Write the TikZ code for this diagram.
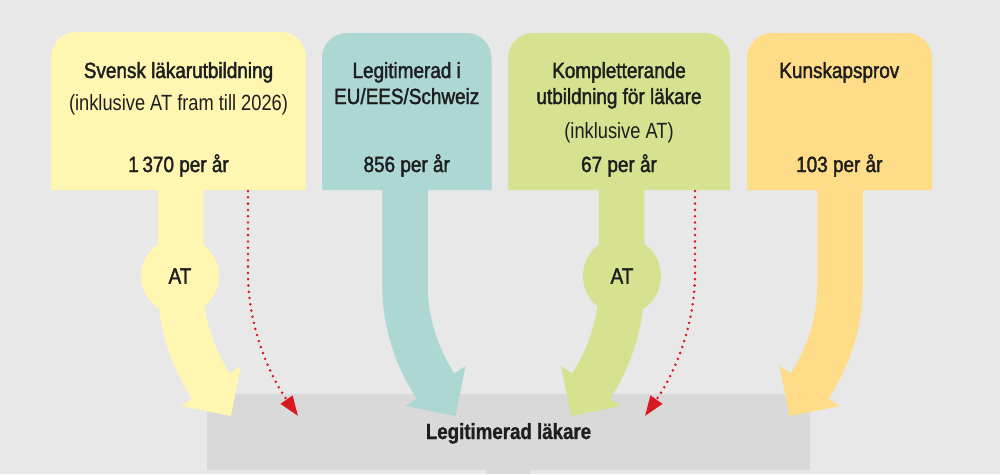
\documentclass[tikz,border=0pt]{standalone}
\usepackage{fontspec}
\setmainfont{Liberation Sans}[FakeStretch=0.85]
\newfontfamily\medf{Liberation Sans}[FakeStretch=0.86,FakeBold=1.8]
\newfontfamily\lightf{Liberation Sans}[FakeStretch=0.83]
\newfontfamily\heavyf{Liberation Sans Bold}[FakeStretch=0.85,FakeBold=1]
\usetikzlibrary{arrows.meta}
\definecolor{bg}{HTML}{E8E8E8}
\definecolor{cyel}{HTML}{FFF6B2}
\definecolor{cteal}{HTML}{ACD7D3}
\definecolor{cgreen}{HTML}{D6E290}
\definecolor{corange}{HTML}{FEDC88}
\definecolor{cgray}{HTML}{D9D9D9}
\definecolor{cred}{HTML}{D71920}
\definecolor{ctext}{HTML}{1E1E1E}
\begin{document}
\begin{tikzpicture}[x=1pt,y=-1pt,
  lbl/.style={inner sep=0pt, anchor=base, text=ctext, font=\medf\fontsize{22}{26}\selectfont},
  sub/.style={lbl, font=\lightf\fontsize{22}{26}\selectfont},
  shaft/.style={line width=45.5pt},
  atcircle/.style={circle, inner sep=0pt, minimum size=78pt, text=ctext, font=\medf\fontsize{22}{26}\selectfont},
  redflow/.style={cred, line width=2.8pt, line cap=round, dash pattern=on 0pt off 6.3pt, -{Triangle[length=20pt,width=14pt]}}
]
% background
\path[use as bounding box, fill=bg] (0,0) rectangle (1000,474);

% bottom target box
\fill[cgray] (207,393.5) rectangle (810,470);
\fill[cgray] (486,470) rectangle (531,474);
\node[lbl, font=\heavyf\fontsize{22}{26}\selectfont] (leg) at (508.5,439) {Legitimerad läkare};

% source boxes
\fill[cyel] (51,190) [rounded corners=25pt] -- (51,32) -- (306,32) [sharp corners] -- (306,190) -- cycle;
\fill[cteal] (322,190) [rounded corners=25pt] -- (322,33) -- (491.5,33) [sharp corners] -- (491.5,190) -- cycle;
\fill[cgreen] (508,190) [rounded corners=25pt] -- (508,33) -- (730,33) [sharp corners] -- (730,190) -- cycle;
\fill[corange] (747,190) [rounded corners=25pt] -- (747,33) -- (932,33) [sharp corners] -- (932,190) -- cycle;

% yellow flow
\draw[cyel, shaft] (180.5,189) -- (180.5,285) .. controls (180.5,321) and (191.1,356.1) .. (212.1,387.7);
\fill[cyel] (181,406) -- (241,366) -- (231,416) -- cycle;
\node[atcircle, fill=cyel] (at1) at (180,276) {AT};

% teal flow
\draw[cteal, shaft] (405,189) -- (405,285) .. controls (405,321) and (415.6,356.1) .. (436.6,387.7);
\fill[cteal] (405.5,406) -- (465.5,366) -- (455.5,416) -- cycle;

% green flow
\draw[cgreen, shaft] (621.5,189) -- (621.5,285) .. controls (621.5,321) and (610.9,356.1) .. (589.9,387.7);
\fill[cgreen] (621,406) -- (561,366) -- (571,416) -- cycle;
\node[atcircle, fill=cgreen] (at2) at (622,276) {AT};

% orange flow
\draw[corange, shaft] (840,189) -- (840,285) .. controls (840,321) and (829.4,356.1) .. (808.4,387.7);
\fill[corange] (839.5,406) -- (779.5,366) -- (789.5,416) -- cycle;

% dotted red flows
\coordinate (r1s) at (248,191);
\coordinate (r1e) at (298,416);
\draw[redflow] (r1s) -- (248,273) .. controls (248,325) and (268,373) .. (r1e);
\coordinate (r2s) at (695,191);
\coordinate (r2e) at (645,416);
\draw[redflow] (r2s) -- (695,273) .. controls (695,325) and (675,373) .. (r2e);

% texts
\node[lbl] (t1a) at (178.5,78) {Svensk läkarutbildning};
\node[sub] (t1b) at (178.5,110) {(inklusive AT fram till 2026)};
\node[lbl] (t1c) at (178.5,172) {1\,370 per år};

\node[lbl] (t2a) at (406.7,78) {Legitimerad i};
\node[lbl] (t2b) at (406.7,104) {EU/EES/Schweiz};
\node[lbl] (t2c) at (406.7,172) {856 per år};

\node[lbl] (t3a) at (619,78) {Kompletterande};
\node[lbl] (t3b) at (619,104) {utbildning för läkare};
\node[sub] (t3c) at (619,138) {(inklusive AT)};
\node[lbl] (t3d) at (619,172) {67 per år};

\node[lbl] (t4a) at (839.3,78) {Kunskapsprov};
\node[lbl] (t4b) at (839.3,172) {103 per år};
\end{tikzpicture}
\end{document}
